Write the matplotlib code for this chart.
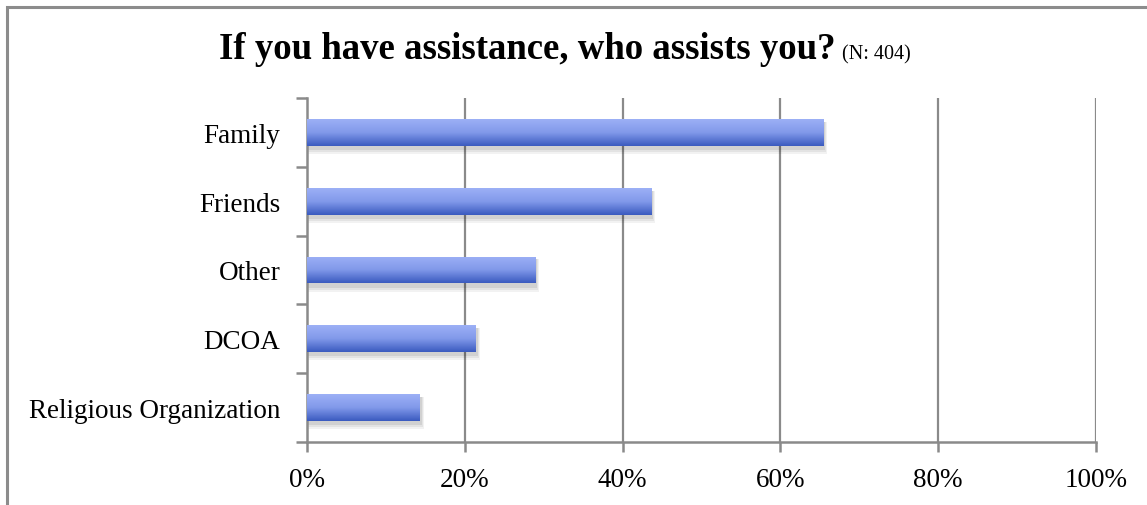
import numpy as np
import matplotlib
matplotlib.use("Agg")
import matplotlib.pyplot as plt
from matplotlib.patches import Rectangle
from matplotlib.colors import LinearSegmentedColormap

categories = ["Family", "Friends", "Other", "DCOA", "Religious Organization"]
values = [65.4, 43.6, 28.9, 21.4, 14.3]
xticks = [0, 20, 40, 60, 80, 100]
xtick_labels = ["0%", "20%", "40%", "60%", "80%", "100%"]
title_main = "If you have assistance, who assists you?"
title_note = "(N: 404)"

plt.rcParams["font.family"] = ["Liberation Serif", "DejaVu Serif"]

W, H = 1147, 506
fig = plt.figure(figsize=(W / 100, H / 100), dpi=100)
fig.patch.set_facecolor("white")

# outer frame (top and left edges visible)
frame = Rectangle((7 / W, -0.1), 1.2, 1 - 8 / H + 0.1, transform=fig.transFigure,
                  fill=False, edgecolor="#8c8c8c", linewidth=2.2, zorder=0)
fig.add_artist(frame)

ax = fig.add_axes([307 / W, 1 - 443 / H, (1096 - 307) / W, (443 - 99) / H])
n = len(categories)

grey = "#8a8a8a"
for x in xticks[1:]:
    ax.axvline(x, color=grey, linewidth=1.6, zorder=1)

bar_h = 0.39
cmap = LinearSegmentedColormap.from_list("barfill", ["#9db0f6", "#8199ea", "#3a5abf"])
grad = np.linspace(0, 1, 256).reshape(-1, 1)
for i, v in enumerate(values):
    # soft shadow beneath each bar
    for k, a in enumerate([0.05, 0.06, 0.08]):
        grow = 0.45 - k * 0.15
        sh = Rectangle((0.1, i - bar_h / 2 + 0.04), v + grow, bar_h + 0.02 + 0.03 * (2 - k),
                       facecolor="black", alpha=a, edgecolor="none", zorder=2)
        ax.add_patch(sh)
    rect = Rectangle((0, i - bar_h / 2), v, bar_h, facecolor="none", edgecolor="none", zorder=3)
    ax.add_patch(rect)
    im = ax.imshow(grad, cmap=cmap, aspect="auto",
                   extent=(0, v, i + bar_h / 2, i - bar_h / 2), zorder=3,
                   interpolation="bilinear")
    im.set_clip_path(rect)
ax.set_xlim(0, 100)
ax.set_ylim(n - 0.5, -0.5)

for s in ["top", "right"]:
    ax.spines[s].set_visible(False)
for s in ["left", "bottom"]:
    ax.spines[s].set_color(grey)
    ax.spines[s].set_linewidth(1.8)

ax.set_xticks(xticks)
ax.set_xticklabels(xtick_labels, fontsize=19.5)
ax.set_yticks(np.arange(n + 1) - 0.5)
ax.set_yticklabels([])
ax.set_yticks(np.arange(n), minor=True)
ax.set_yticklabels(categories, minor=True, fontsize=19.5)
ax.tick_params(axis="y", which="major", length=8, width=1.8, color=grey, direction="out")
ax.tick_params(axis="y", which="minor", length=0, pad=19)
ax.tick_params(axis="x", length=7, width=1.8, color=grey, direction="out", pad=11)

# two-part title, centred as a whole
t = fig.text(0, 1 - 59 / H, title_main, fontsize=26.5, fontweight="bold",
             ha="left", va="baseline")
note = fig.text(0, 1 - 59 / H, title_note, fontsize=14.5, ha="left", va="baseline")
fig.canvas.draw()
r = fig.canvas.get_renderer()
w1 = t.get_window_extent(r).width
w2 = note.get_window_extent(r).width
gap = 7
x0 = 565 - (w1 + gap + w2) / 2
t.set_x(x0 / W)
note.set_x((x0 + w1 + gap) / W)

fig.savefig("out.png", dpi=100, facecolor="white")
